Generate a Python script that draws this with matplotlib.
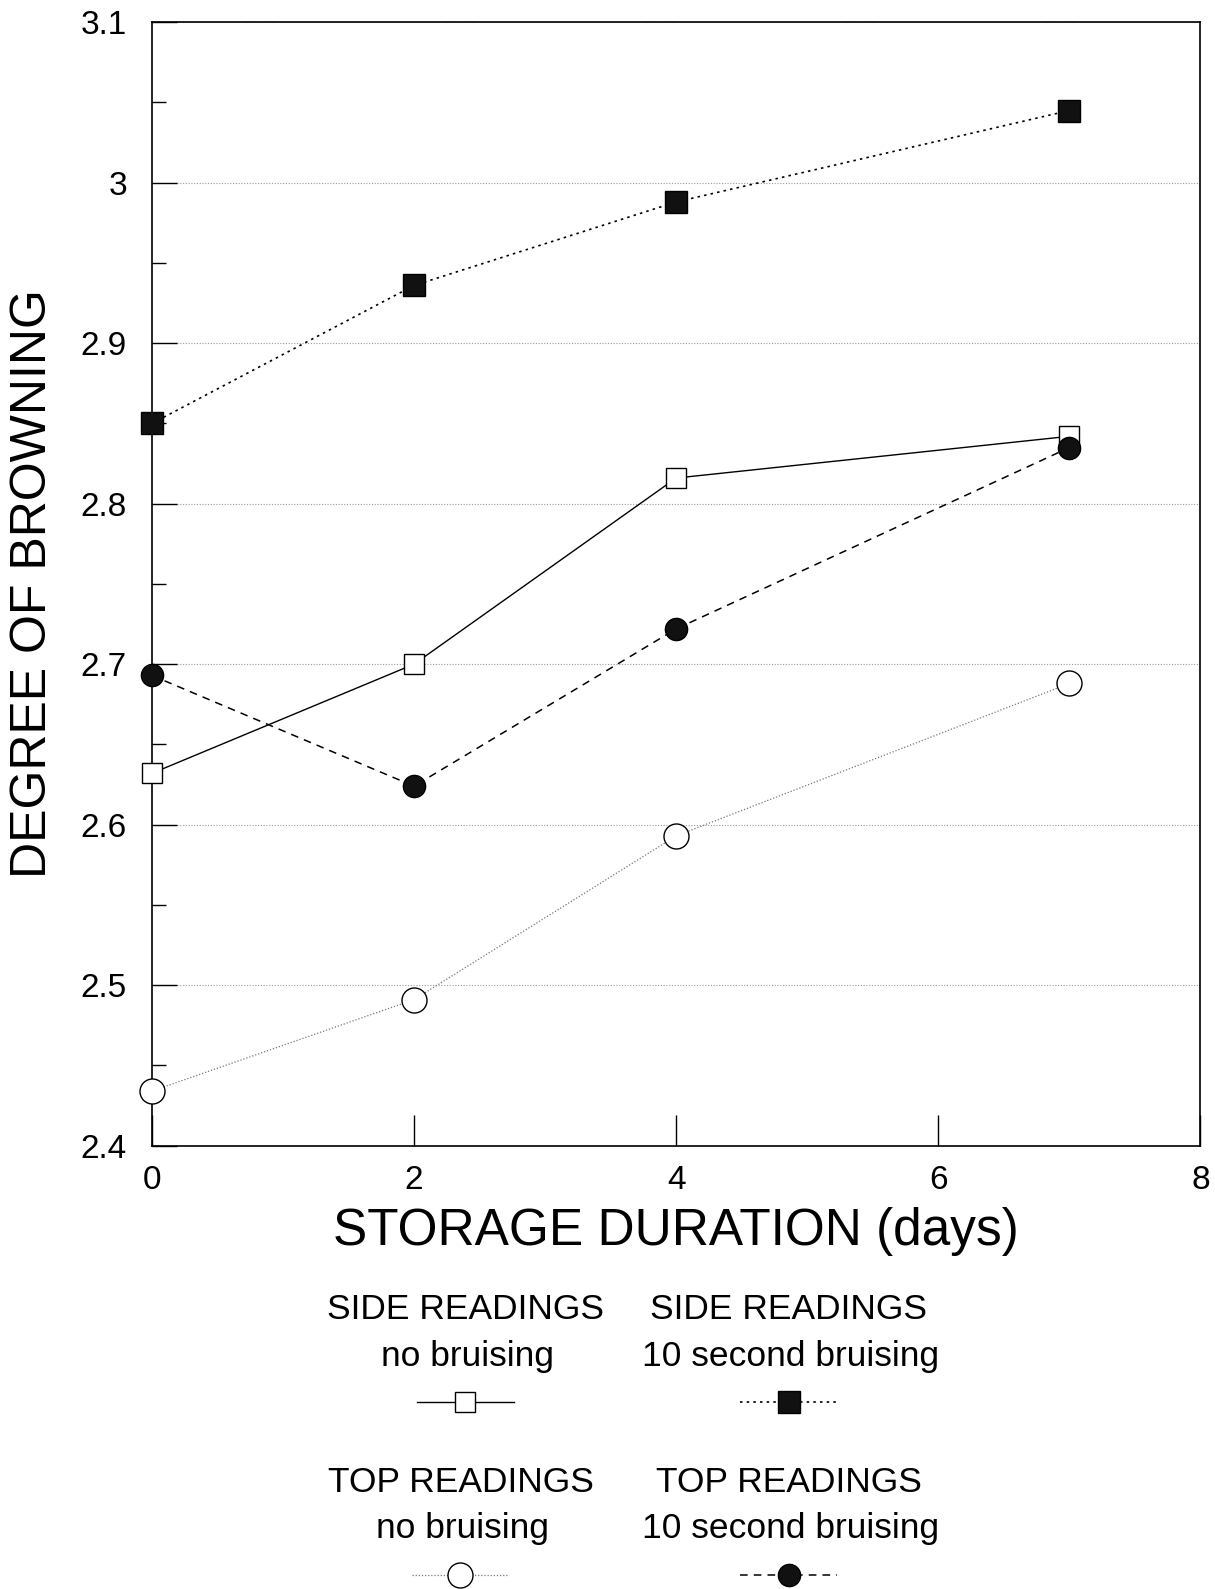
import matplotlib
matplotlib.use("Agg")
from matplotlib import pyplot as plt
from matplotlib.ticker import MultipleLocator

plt.rcParams["font.family"] = ["Liberation Sans", "DejaVu Sans"]

days = [0, 2, 4, 7]
side_no_bruise = [2.632, 2.700, 2.816, 2.842]
side_10s_bruise = [2.850, 2.936, 2.988, 3.045]
top_no_bruise = [2.434, 2.491, 2.593, 2.688]
top_10s_bruise = [2.693, 2.624, 2.722, 2.835]

x_ticks = [0, 2, 4, 6, 8]
y_ticks = [2.4, 2.5, 2.6, 2.7, 2.8, 2.9, 3.0, 3.1]
y_tick_labels = ["2.4", "2.5", "2.6", "2.7", "2.8", "2.9", "3", "3.1"]

# line / marker styles shared by the plot and the legend samples
side_plain = dict(color="black", lw=1.0, ls="-", marker="s", ms=15,
                  mfc="white", mec="black", mew=1.0)
side_bruised = dict(color="black", lw=1.2, ls=(0, (1.5, 2.5)), marker="s", ms=16,
                    mfc="#111111", mec="black")
top_plain = dict(color="#777777", lw=0.9, ls=(0, (1, 1.5)), marker="o", ms=18,
                 mfc="white", mec="black", mew=1.0)
top_bruised = dict(color="black", lw=1.1, ls=(0, (5, 4)), marker="o", ms=16,
                   mfc="#111111", mec="black")

fig = plt.figure(figsize=(12.15, 15.89), dpi=100)
ax = fig.add_axes([0.125, 0.279, 0.863, 0.707])

ax.plot(days, side_no_bruise, clip_on=False, zorder=3, **side_plain)
ax.plot(days, side_10s_bruise, clip_on=False, zorder=3, **side_bruised)
ax.plot(days, top_10s_bruise, clip_on=False, zorder=3, **top_bruised)
ax.plot(days, top_no_bruise, clip_on=False, zorder=3, **top_plain)

ax.set_xlim(0, 8)
ax.set_ylim(2.4, 3.1)
ax.set_xticks(x_ticks)
ax.set_yticks(y_ticks)
ax.set_yticklabels(y_tick_labels)
ax.yaxis.set_minor_locator(MultipleLocator(0.05))
ax.grid(axis="y", which="major", color="#999999", lw=0.8, ls=(0, (1, 1.5)))

ax.tick_params(axis="x", direction="in", length=22, width=1, labelsize=24, pad=14)
ax.tick_params(axis="y", direction="in", length=18, width=1, labelsize=24, pad=18)
ax.tick_params(axis="y", which="minor", direction="in", length=10, width=1)
for s in ax.spines.values():
    s.set_linewidth(1.2)

ax.set_xlabel("STORAGE DURATION (days)", fontsize=37, labelpad=8)
ax.set_ylabel("DEGREE OF BROWNING", fontsize=36, labelpad=18)

# legend drawn as text blocks with sample lines underneath
legend_items = [
    (0.383, 0.1756, "SIDE READINGS", "no bruising", side_plain),
    (0.649, 0.1756, "SIDE READINGS", "10 second bruising", side_bruised),
    (0.379, 0.0672, "TOP READINGS", "no bruising", top_plain),
    (0.649, 0.0672, "TOP READINGS", "10 second bruising", top_bruised),
]
for cx, cy, title, sub, style in legend_items:
    fig.text(cx, cy, title, ha="center", va="center", fontsize=25.5)
    fig.text(cx + 0.002, cy - 0.0292, sub, ha="center", va="center", fontsize=25.5)
    line = plt.Line2D([cx - 0.04, cx, cx + 0.04], [cy - 0.0582] * 3,
                      transform=fig.transFigure, markevery=[1], **style)
    fig.add_artist(line)

fig.savefig("out.png", dpi=100, facecolor="white")
